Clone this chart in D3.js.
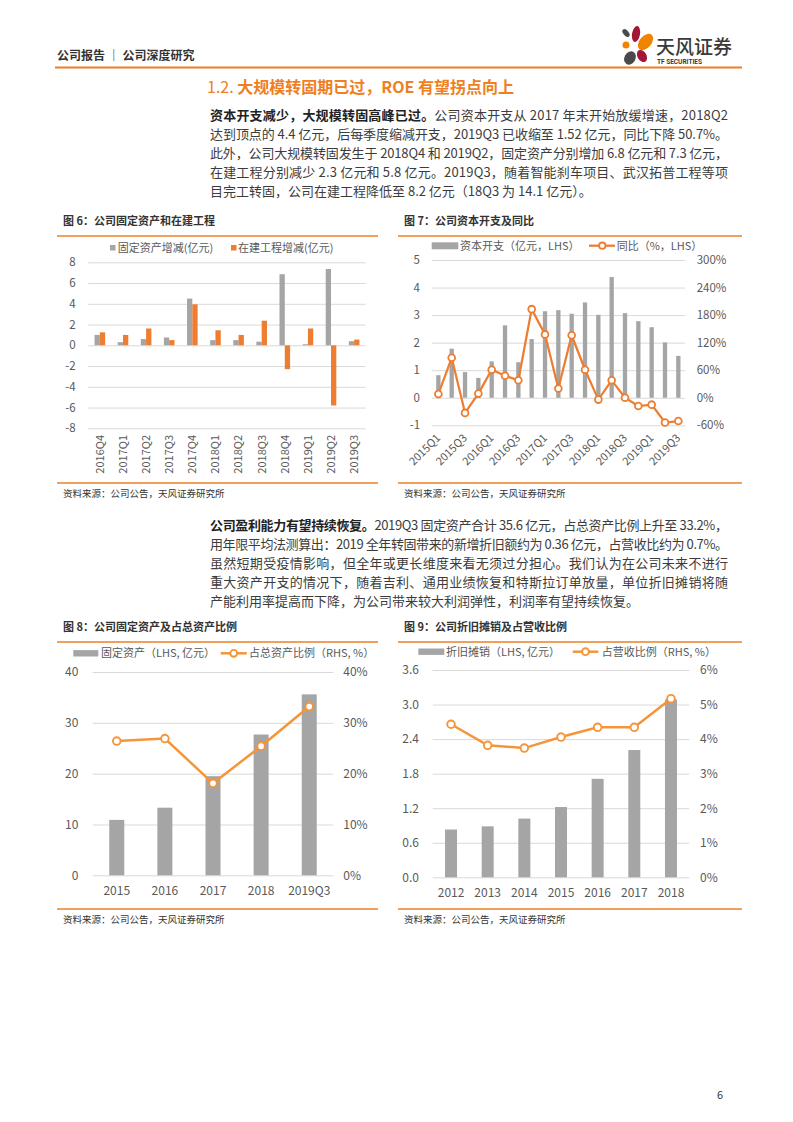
<!DOCTYPE html>
<html>
<head>
<meta charset="utf-8">
<script src="https://cdn.jsdelivr.net/npm/d3@7"></script>
<style>
body { margin: 0; background: #fff; }
svg { display: block; font-family: "Noto Sans CJK SC", "Noto Sans", sans-serif; }
</style>
</head>
<body>
<div id="page"></div>
<script>
// ---- data ----
var c6Cats = ["2016Q4", "2017Q1", "2017Q2", "2017Q3", "2017Q4", "2018Q1", "2018Q2", "2018Q3", "2018Q4", "2019Q1", "2019Q2", "2019Q3"];
var c6Fixed = [1.0, 0.3, 0.6, 0.75, 4.5, 0.5, 0.5, 0.35, 6.85, 0.1, 7.35, 0.4];
var c6Cip = [1.25, 1.0, 1.62, 0.5, 3.95, 1.45, 1.0, 2.37, -2.3, 1.62, -5.8, 0.55];
var c6Ticks = [-8, -6, -4, -2, 0, 2, 4, 6, 8];

var c7Cats = ["2015Q1", "2015Q2", "2015Q3", "2015Q4", "2016Q1", "2016Q2", "2016Q3", "2016Q4",
    "2017Q1", "2017Q2", "2017Q3", "2017Q4", "2018Q1", "2018Q2", "2018Q3", "2018Q4", "2019Q1", "2019Q2", "2019Q3"];
var c7Capex = [0.82, 1.78, 0.93, 0.72, 1.32, 2.63, 1.29, 2.13, 3.14, 3.18, 3.05, 3.46, 3.01, 4.38, 3.07, 2.78, 2.56, 2.01, 1.52];
var c7Yoy = [8, 87, -33, 9, 61, 48, 38, 193, 138, 20, 136, 61, -4, 38, 0, -18, -15, -54, -50.7];
var c7LeftTicks = [-1, 0, 1, 2, 3, 4, 5];
var c7RightTicks = [-60, 0, 60, 120, 180, 240, 300];

var c8Cats = ["2015", "2016", "2017", "2018", "2019Q3"];
var c8Assets = [10.9, 13.3, 19.5, 27.7, 35.6];
var c8Ratio = [26.4, 26.9, 18.1, 25.4, 33.2];
var c8LeftTicks = [0, 10, 20, 30, 40];
var c8RightTicks = [0, 10, 20, 30, 40];

var c9Cats = ["2012", "2013", "2014", "2015", "2016", "2017", "2018"];
var c9Da = [0.83, 0.885, 1.02, 1.22, 1.71, 2.21, 3.09];
var c9Ratio = [4.43, 3.82, 3.74, 4.06, 4.34, 4.34, 5.17];
var c9LeftTicks = [0, 0.6, 1.2, 1.8, 2.4, 3.0, 3.6];
var c9RightTicks = [0, 1, 2, 3, 4, 5, 6];

var para1 = [
    [["资本开支减少，大规模转固高峰已过。", true], ["公司资本开支从 2017 年末开始放缓增速，2018Q2", false]],
    [["达到顶点的 4.4 亿元，后每季度缩减开支，2019Q3 已收缩至 1.52 亿元，同比下降 50.7%。", false]],
    [["此外，公司大规模转固发生于 2018Q4 和 2019Q2，固定资产分别增加 6.8 亿元和 7.3 亿元，", false]],
    [["在建工程分别减少 2.3 亿元和 5.8 亿元。2019Q3，随着智能刹车项目、武汉拓普工程等项", false]],
    [["目完工转固，公司在建工程降低至 8.2 亿元（18Q3 为 14.1 亿元）。", false]]
];
var para2 = [
    [["公司盈利能力有望持续恢复。", true], ["2019Q3 固定资产合计 35.6 亿元，占总资产比例上升至 33.2%，", false]],
    [["用年限平均法测算出：2019 全年转固带来的新增折旧额约为 0.36 亿元，占营收比约为 0.7%。", false]],
    [["虽然短期受疫情影响，但全年或更长维度来看无须过分担心。我们认为在公司未来不进行", false]],
    [["重大资产开支的情况下，随着吉利、通用业绩恢复和特斯拉订单放量，单位折旧摊销将随", false]],
    [["产能利用率提高而下降，为公司带来较大利润弹性，利润率有望持续恢复。", false]]
];

// ---- colours ----
var grey = "#A5A5A5",
    orange = "#ED7D31",
    lineOrange = "#F5953A",
    brand = "#EE7F22",
    txt = "#595959",
    gridC = "#D9D9D9";

var plain = function (d) { return String(d); }; // keep a plain hyphen for negatives

var svg = d3.select("#page")
    .append("svg")
    .attr("width", 793)
    .attr("height", 1122);

// ---- header ----
svg.append("text")
    .attr("x", 57).attr("y", 59.5)
    .attr("font-size", 12).attr("font-weight", 700).attr("fill", "#333")
    .text("公司报告 ｜ 公司深度研究");
svg.append("line")
    .attr("x1", 55).attr("x2", 742).attr("y1", 67.5).attr("y2", 67.5)
    .attr("stroke", brand).attr("stroke-width", 2);

// logo petals
var logo = svg.append("g").attr("transform", "translate(621,26)");
var petals = [
    {cx: 5, cy: 7, rx: 2.6, ry: 4.6, r: -40, c: "#4A4A4A"},
    {cx: 15, cy: 8, rx: 4, ry: 8, r: 10, c: "#A3163A"},
    {cx: 5, cy: 19, rx: 3.5, ry: 3.5, r: 0, c: "#F08300"},
    {cx: 24.5, cy: 16, rx: 6, ry: 9.5, r: 40, c: "#F08300"},
    {cx: 21, cy: 30, rx: 4.5, ry: 6.5, r: -30, c: "#A3163A"},
    {cx: 9, cy: 32, rx: 5.5, ry: 7, r: 30, c: "#4A4A4A"}
];
logo.selectAll("ellipse").data(petals).enter().append("ellipse")
    .attr("transform", function (d) { return "translate(" + d.cx + "," + d.cy + ") rotate(" + d.r + ")"; })
    .attr("rx", function (d) { return d.rx; })
    .attr("ry", function (d) { return d.ry; })
    .attr("fill", function (d) { return d.c; });
svg.append("text")
    .attr("x", 656).attr("y", 54)
    .attr("font-size", 19).attr("font-weight", 500).attr("fill", "#3A3A3A")
    .text("天风证券");
svg.append("text")
    .attr("x", 657).attr("y", 63.5)
    .attr("font-size", 6.5).attr("font-weight", 700).attr("fill", "#3A3A3A")
    .attr("font-family", "Roboto, sans-serif")
    .text("TF SECURITIES");

// section title
var ttl = svg.append("text")
    .attr("x", 207).attr("y", 93)
    .attr("font-size", 16).attr("fill", brand);
ttl.append("tspan").attr("font-weight", 400).text("1.2. ");
ttl.append("tspan").attr("font-weight", 700).text("大规模转固期已过，ROE 有望拐点向上");

// paragraphs, each line stretched to the column width
function paragraph(lines, y0) {
    lines.forEach(function (parts, i) {
        var t = svg.append("text")
            .attr("x", 210)
            .attr("y", y0 + i * 19)
            .attr("font-size", 13)
            .attr("fill", "#3C3C3C");
        if (i < lines.length - 1) {
            t.attr("textLength", 518).attr("lengthAdjust", "spacing");
        }
        parts.forEach(function (p) {
            t.append("tspan")
                .attr("font-weight", p[1] ? 700 : 400)
                .attr("fill", p[1] ? "#222" : "#3C3C3C")
                .text(p[0]);
        });
    });
}
paragraph(para1, 120);
paragraph(para2, 529.5);

// figure frames: title, rules, source
function frame(x1, x2, titleY, titleText, srcY) {
    svg.append("text")
        .attr("x", x1 + 6).attr("y", titleY + 4)
        .attr("font-size", 11).attr("font-weight", 700).attr("fill", "#333")
        .text(titleText);
    svg.append("line")
        .attr("x1", x1).attr("x2", x2).attr("y1", titleY + 15).attr("y2", titleY + 15)
        .attr("stroke", brand).attr("stroke-width", 1.3);
    svg.append("line")
        .attr("x1", x1).attr("x2", x2).attr("y1", srcY).attr("y2", srcY)
        .attr("stroke", brand).attr("stroke-width", 1.3);
    svg.append("text")
        .attr("x", x1 + 6).attr("y", srcY + 13.5)
        .attr("font-size", 9.5).attr("fill", "#333")
        .text("资料来源：公司公告，天风证券研究所");
}
frame(57, 378, 221, "图 6：公司固定资产和在建工程", 483);
frame(398, 742, 221, "图 7：公司资本开支及同比", 483);
frame(57, 378, 627, "图 8：公司固定资产及占总资产比例", 909);
frame(398, 742, 627, "图 9：公司折旧摊销及占营收比例", 909);

function styleAxis(g, size) {
    g.select(".domain").remove();
    g.selectAll(".tick line").attr("stroke", gridC).attr("stroke-width", 1);
    g.selectAll(".tick text").attr("fill", txt).attr("font-size", size)
        .attr("font-family", "\"Noto Sans CJK SC\", sans-serif");
}

// ---- figure 6 ----
(function () {
    var x = d3.scaleBand().domain(c6Cats).range([88.3, 365.7]);
    var y = d3.scaleLinear().domain([-8, 8]).range([428.3, 262.3]);
    var bw = 5.3;

    var gy = svg.append("g").attr("transform", "translate(88.3,0)")
        .call(d3.axisLeft(y).tickValues(c6Ticks).tickFormat(plain)
            .tickSize(-(365.7 - 88.3)).tickPadding(12.6));
    styleAxis(gy, 11.5);

    var g = svg.append("g");
    g.selectAll(".fx").data(c6Fixed).enter().append("rect")
        .attr("x", function (d, i) { return x(c6Cats[i]) + x.bandwidth() / 2 - bw; })
        .attr("y", function (d) { return y(Math.max(0, d)); })
        .attr("width", bw)
        .attr("height", function (d) { return Math.abs(y(d) - y(0)); })
        .attr("fill", grey);
    g.selectAll(".cp").data(c6Cip).enter().append("rect")
        .attr("x", function (d, i) { return x(c6Cats[i]) + x.bandwidth() / 2; })
        .attr("y", function (d) { return y(Math.max(0, d)); })
        .attr("width", bw)
        .attr("height", function (d) { return Math.abs(y(d) - y(0)); })
        .attr("fill", orange);

    var gx = svg.append("g").attr("transform", "translate(0,435)")
        .call(d3.axisBottom(x).tickSize(0).tickPadding(0));
    styleAxis(gx, 11);
    gx.selectAll("text")
        .attr("x", 0).attr("y", 0).attr("dy", "0.35em")
        .attr("transform", "rotate(-90)")
        .style("text-anchor", "end");

    // legend
    var lg = svg.append("g").attr("font-size", 11).attr("fill", txt);
    lg.append("rect").attr("x", 110).attr("y", 245).attr("width", 5.5).attr("height", 5.5).attr("fill", grey);
    lg.append("text").attr("x", 117.7).attr("y", 251.7).text("固定资产增减(亿元)");
    lg.append("rect").attr("x", 231).attr("y", 245).attr("width", 5.5).attr("height", 5.5).attr("fill", orange);
    lg.append("text").attr("x", 238).attr("y", 251.7).text("在建工程增减(亿元)");
})();

// ---- figure 7 ----
(function () {
    var x = d3.scaleBand().domain(c7Cats).range([431.7, 685]);
    var yL = d3.scaleLinear().domain([-1, 5]).range([425.3, 260]);
    var yR = d3.scaleLinear().domain([-60, 300]).range([425.3, 260]);
    var bw = 4.3;

    var gy = svg.append("g").attr("transform", "translate(431.7,0)")
        .call(d3.axisLeft(yL).tickValues(c7LeftTicks).tickFormat(plain)
            .tickSize(-(685 - 431.7)).tickPadding(11.7));
    styleAxis(gy, 11.5);
    var gr = svg.append("g").attr("transform", "translate(685,0)")
        .call(d3.axisRight(yR).tickValues(c7RightTicks).tickSize(0).tickPadding(11.7)
            .tickFormat(function (d) { return d + "%"; }));
    styleAxis(gr, 11.5);

    svg.append("g").selectAll("rect").data(c7Capex).enter().append("rect")
        .attr("x", function (d, i) { return x(c7Cats[i]) + x.bandwidth() / 2 - bw / 2; })
        .attr("y", function (d) { return yL(d); })
        .attr("width", bw)
        .attr("height", function (d) { return yL(0) - yL(d); })
        .attr("fill", grey);

    var line = d3.line()
        .x(function (d, i) { return x(c7Cats[i]) + x.bandwidth() / 2; })
        .y(function (d) { return yR(d); });
    svg.append("path").datum(c7Yoy)
        .attr("d", line)
        .attr("fill", "none").attr("stroke", orange).attr("stroke-width", 2.25);
    svg.append("g").selectAll("circle").data(c7Yoy).enter().append("circle")
        .attr("cx", function (d, i) { return x(c7Cats[i]) + x.bandwidth() / 2; })
        .attr("cy", function (d) { return yR(d); })
        .attr("r", 3.4)
        .attr("fill", "#fff").attr("stroke", orange).attr("stroke-width", 1.8);

    var gx = svg.append("g").attr("transform", "translate(0,436)")
        .call(d3.axisBottom(x).tickSize(0).tickPadding(0)
            .tickValues(c7Cats.filter(function (d, i) { return i % 2 === 0; })));
    styleAxis(gx, 11);
    gx.selectAll("text")
        .attr("x", 0).attr("y", 0).attr("dy", "0.35em")
        .attr("transform", "rotate(-45)")
        .style("text-anchor", "end");

    var lg = svg.append("g").attr("font-size", 11).attr("fill", txt);
    lg.append("rect").attr("x", 431.7).attr("y", 242.3).attr("width", 26.6).attr("height", 7).attr("fill", grey);
    lg.append("text").attr("x", 460).attr("y", 249.7).text("资本开支（亿元，LHS）");
    lg.append("line").attr("x1", 589).attr("x2", 615).attr("y1", 245.7).attr("y2", 245.7)
        .attr("stroke", orange).attr("stroke-width", 2.25);
    lg.append("circle").attr("cx", 602.3).attr("cy", 245.7).attr("r", 3.2)
        .attr("fill", "#fff").attr("stroke", orange).attr("stroke-width", 1.8);
    lg.append("text").attr("x", 616.7).attr("y", 249.7).text("同比（%，LHS）");
})();

// ---- combo bar + line (figures 8, 9) ----
function combo(o) {
    var x = d3.scaleBand().domain(o.cats).range([o.x0, o.x1]);
    var yL = d3.scaleLinear().domain(o.leftDomain).range([o.yBottom, o.yTop]);
    var yR = d3.scaleLinear().domain(o.rightDomain).range([o.yBottom, o.yTop]);

    var gy = svg.append("g").attr("transform", "translate(" + o.x0 + ",0)")
        .call(d3.axisLeft(yL).tickValues(o.leftTicks).tickSize(-(o.x1 - o.x0))
            .tickPadding(o.x0 - o.leftLabelX).tickFormat(o.leftFormat));
    styleAxis(gy, 12);
    var gr = svg.append("g").attr("transform", "translate(" + o.x1 + ",0)")
        .call(d3.axisRight(yR).tickValues(o.rightTicks).tickSize(0)
            .tickPadding(o.rightLabelX - o.x1).tickFormat(function (d) { return d + "%"; }));
    styleAxis(gr, 12);

    svg.append("g").selectAll("rect").data(o.bars).enter().append("rect")
        .attr("x", function (d, i) { return x(o.cats[i]) + x.bandwidth() / 2 - o.bw / 2; })
        .attr("y", function (d) { return yL(d); })
        .attr("width", o.bw)
        .attr("height", function (d) { return yL(0) - yL(d); })
        .attr("fill", grey);

    var line = d3.line()
        .x(function (d, i) { return x(o.cats[i]) + x.bandwidth() / 2; })
        .y(function (d) { return yR(d); });
    svg.append("path").datum(o.line)
        .attr("d", line)
        .attr("fill", "none").attr("stroke", lineOrange).attr("stroke-width", 2.5);
    svg.append("g").selectAll("circle").data(o.line).enter().append("circle")
        .attr("cx", function (d, i) { return x(o.cats[i]) + x.bandwidth() / 2; })
        .attr("cy", function (d) { return yR(d); })
        .attr("r", 3.8)
        .attr("fill", "#fff").attr("stroke", lineOrange).attr("stroke-width", 1.9);

    var gx = svg.append("g").attr("transform", "translate(0," + o.yBottom + ")")
        .call(d3.axisBottom(x).tickSize(0).tickPadding(o.xPad));
    styleAxis(gx, 12);

    var lg = svg.append("g").attr("font-size", 11).attr("fill", txt);
    var ly = o.legendY;
    lg.append("rect").attr("x", o.lg[0]).attr("y", ly - 3.2).attr("width", o.lg[1] - o.lg[0]).attr("height", 6.4).attr("fill", grey);
    lg.append("text").attr("x", o.lg[2]).attr("y", ly + 4).text(o.legendBar);
    lg.append("line").attr("x1", o.lg[3]).attr("x2", o.lg[4]).attr("y1", ly).attr("y2", ly)
        .attr("stroke", lineOrange).attr("stroke-width", 2.5);
    lg.append("circle").attr("cx", (o.lg[3] + o.lg[4]) / 2).attr("cy", ly).attr("r", 3.4)
        .attr("fill", "#fff").attr("stroke", lineOrange).attr("stroke-width", 1.9);
    lg.append("text").attr("x", o.lg[5]).attr("y", ly + 4).text(o.legendLine);
}

combo({
    cats: c8Cats, bars: c8Assets, line: c8Ratio,
    leftDomain: [0, 40], rightDomain: [0, 40],
    leftTicks: c8LeftTicks, rightTicks: c8RightTicks,
    leftFormat: plain,
    x0: 92.7, x1: 333.3, yTop: 672, yBottom: 875.3,
    leftLabelX: 78.3, rightLabelX: 343.3, bw: 15, xPad: 11.2,
    legendY: 653.3, lg: [73.3, 98.3, 101, 220.7, 246.7, 249],
    legendBar: "固定资产（LHS, 亿元）", legendLine: "占总资产比例（RHS, %）"
});

combo({
    cats: c9Cats, bars: c9Da, line: c9Ratio,
    leftDomain: [0, 3.6], rightDomain: [0, 6],
    leftTicks: c9LeftTicks, rightTicks: c9RightTicks,
    leftFormat: d3.format(".1f"),
    x0: 432.7, x1: 689.3, yTop: 670, yBottom: 877.3,
    leftLabelX: 419, rightLabelX: 700, bw: 12, xPad: 10.8,
    legendY: 651.7, lg: [418.3, 444.3, 446, 572.7, 598.3, 601.7],
    legendBar: "折旧摊销（LHS, 亿元）", legendLine: "占营收比例（RHS, %）"
});

// page number
svg.append("text")
    .attr("x", 717).attr("y", 1099)
    .attr("font-size", 11).attr("fill", "#333")
    .text("6");
</script>
</body>
</html>
